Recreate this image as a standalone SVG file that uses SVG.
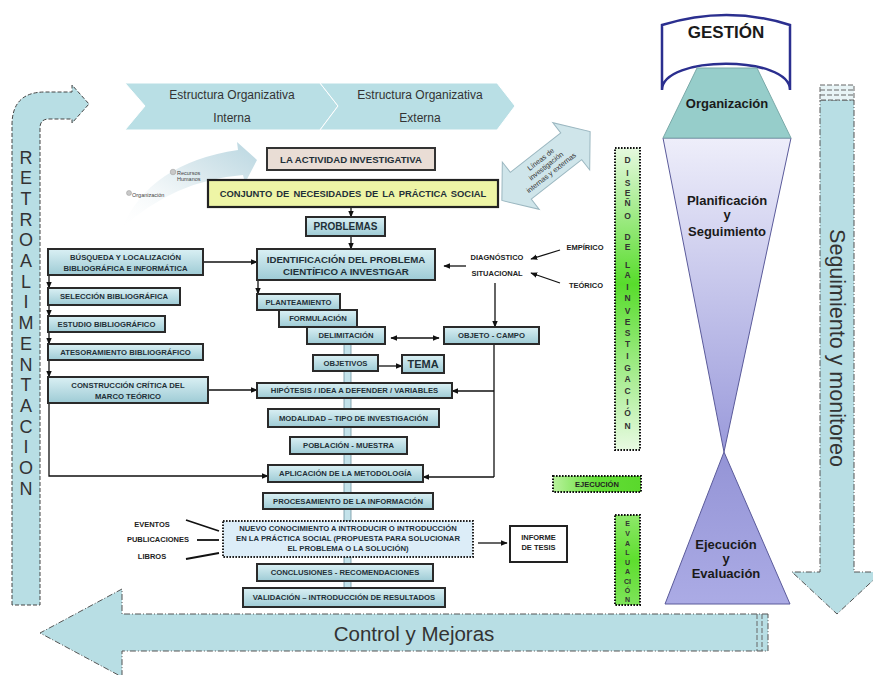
<svg xmlns="http://www.w3.org/2000/svg" width="873" height="675" viewBox="0 0 873 675">
<defs>
<linearGradient id="ng" x1="0" y1="0" x2="0" y2="1"><stop offset="0" stop-color="#daf0f4"/><stop offset="1" stop-color="#9ecbd5"/></linearGradient>
<linearGradient id="gv" x1="0" y1="0" x2="0" y2="1"><stop offset="0" stop-color="#e6f9df"/><stop offset="0.45" stop-color="#58dc2c"/><stop offset="1" stop-color="#e8fae2"/></linearGradient>
<linearGradient id="gv2" x1="0" y1="0" x2="0" y2="1"><stop offset="0" stop-color="#8ee86a"/><stop offset="0.5" stop-color="#5ede2e"/><stop offset="1" stop-color="#7ee45a"/></linearGradient>
<linearGradient id="gh" x1="0" y1="0" x2="1" y2="0"><stop offset="0" stop-color="#b8f29c"/><stop offset="0.5" stop-color="#62dd35"/><stop offset="1" stop-color="#5ad82c"/></linearGradient>
<linearGradient id="pu1" x1="0" y1="0" x2="0" y2="1"><stop offset="0" stop-color="#eeeefa"/><stop offset="1" stop-color="#9a9adb"/></linearGradient>
<linearGradient id="pu2" x1="0" y1="0" x2="0" y2="1"><stop offset="0" stop-color="#9494d6"/><stop offset="1" stop-color="#ababe5"/></linearGradient>
<linearGradient id="cv" x1="0" y1="1" x2="1" y2="0"><stop offset="0" stop-color="#ffffff" stop-opacity="0.1"/><stop offset="0.6" stop-color="#dbe9ee"/><stop offset="1" stop-color="#bad7e1"/></linearGradient>
<marker id="ah" viewBox="0 0 10 10" refX="9" refY="5" markerWidth="7" markerHeight="7" markerUnits="userSpaceOnUse" orient="auto-start-reverse"><path d="M0,1 L10,5 L0,9 z" fill="#111"/></marker>
<style>
.f{font-family:"Liberation Sans",Arial,sans-serif}
.nb{fill:url(#ng);stroke:#2a2a2a;stroke-width:2}
.nt{font-family:"Liberation Sans",Arial,sans-serif;font-weight:bold;font-size:7.7px;fill:#1f3038;text-anchor:middle}
.c{fill:none;stroke:#111;stroke-width:1.3}
.ca{marker-end:url(#ah)}
.hb{fill:#c3e2ea;stroke:#6f93a0;stroke-width:0.8}
.gb{stroke:#111;stroke-width:2;stroke-dasharray:1.6 1.4}
.gl{font-family:"Liberation Sans",Arial,sans-serif;font-weight:bold;font-size:8.5px;fill:#333;text-anchor:middle}
.lb{fill:#b8dee4;stroke:#444;stroke-width:1;stroke-dasharray:4 2}
.dd{fill:#b8dee4;stroke:#555;stroke-width:1;stroke-dasharray:6 2 1 2}
.big{font-family:"Liberation Sans",Arial,sans-serif;fill:#333}
.hg{font-family:"Liberation Sans",Arial,sans-serif;font-weight:bold;font-size:13px;fill:#1a1a1a;text-anchor:middle}
.sm{font-family:"Liberation Sans",Arial,sans-serif;font-weight:bold;font-size:7.5px;fill:#222;text-anchor:middle}
</style>
</defs>
<rect width="873" height="675" fill="#ffffff"/>

<g id="retroalimentacion">
<path class="lb" d="M12,605 L12,125 Q12,92 45,92 L72,92 L72,85 L89,104 L72,123 L72,119 L49,119 Q40,119 40,128 L40,605 Z"/>
<text class="big" font-size="18" text-anchor="middle">
<tspan x="26" y="163.5">R</tspan><tspan x="26" y="184.2">E</tspan><tspan x="26" y="204.9">T</tspan><tspan x="26" y="225.6">R</tspan><tspan x="26" y="246.3">O</tspan><tspan x="26" y="267">A</tspan><tspan x="26" y="287.7">L</tspan><tspan x="26" y="308.4">I</tspan><tspan x="26" y="329.1">M</tspan><tspan x="26" y="349.8">E</tspan><tspan x="26" y="370.5">N</tspan><tspan x="26" y="391.2">T</tspan><tspan x="26" y="411.9">A</tspan><tspan x="26" y="432.6">C</tspan><tspan x="26" y="453.3">I</tspan><tspan x="26" y="474">O</tspan><tspan x="26" y="494.7">N</tspan>
</text>
</g>

<g id="estructura-interna">
<path d="M125,83 L320,83 L338,106 L320,130 L125,130 L145,106 Z" fill="#b9dfe5" stroke="#ffffff" stroke-width="1"/>
<text class="big" font-size="12" text-anchor="middle"><tspan x="232" y="99">Estructura Organizativa</tspan><tspan x="232" y="122">Interna</tspan></text>
</g>
<g id="estructura-externa">
<path d="M320,83 L497,83 L515,106 L497,130 L320,130 L338,106 Z" fill="#b9dfe5" stroke="#ffffff" stroke-width="1"/>
<text class="big" font-size="12" text-anchor="middle"><tspan x="420" y="99">Estructura Organizativa</tspan><tspan x="420" y="122">Externa</tspan></text>
</g>

<g id="organizacion-rrhh">
<path d="M122,228 Q150,163 238,150 L237,142 L257,160 L245,183 L243,175 Q175,180 122,228 Z" fill="url(#cv)"/>
<circle cx="129" cy="193" r="2.5" fill="#c8c8c8" stroke="#999" stroke-width="0.5"/>
<circle cx="173" cy="172" r="2.8" fill="#c8c8c8" stroke="#999" stroke-width="0.5"/>
<text class="f" font-size="5.5" fill="#444"><tspan x="132" y="197">Organización</tspan><tspan x="177" y="175">Recursos</tspan><tspan x="177" y="181">Humanos</tspan></text>
</g>

<g id="lineas-investigacion" transform="translate(546,166) rotate(-38)">
<path d="M-56,0 L-32,-30 L-32,-17 L32,-17 L32,-30 L56,0 L32,30 L32,17 L-32,17 L-32,30 Z" fill="#cfe5ea" stroke="#9bb7c0" stroke-width="1"/>
<text class="f" font-size="7.2" fill="#333" text-anchor="middle"><tspan x="0" y="-6">Líneas de</tspan><tspan x="0" y="2.5">investigación</tspan><tspan x="0" y="11">internas y externas</tspan></text>
</g>

<g id="connectors">
<line class="c ca" x1="351" y1="207" x2="351" y2="217"/>
<line class="c ca" x1="351" y1="236" x2="351" y2="249"/>
<line class="c ca" x1="203" y1="262" x2="257" y2="262"/>
<line class="c ca" x1="258" y1="280" x2="258" y2="294"/>
<line class="c ca" x1="208" y1="390" x2="257" y2="390"/>
<line class="c ca" x1="49" y1="275" x2="49" y2="288"/>
<line class="c ca" x1="49" y1="305" x2="49" y2="316"/>
<line class="c ca" x1="49" y1="332" x2="49" y2="344"/>
<line class="c ca" x1="49" y1="360" x2="49" y2="377"/>
<polyline class="c ca" points="49,403 49,476 268,476"/>
<line class="c ca" x1="466" y1="266" x2="444" y2="266"/>
<line class="c ca" x1="495" y1="283" x2="495" y2="327"/>
<line class="c ca" x1="560" y1="250" x2="531" y2="259"/>
<line class="c ca" x1="560" y1="283" x2="531" y2="273"/>
<line class="c ca" x1="391" y1="338" x2="439" y2="338" marker-start="url(#ah)"/>
<line class="c ca" x1="378" y1="366" x2="402" y2="366"/>
<polyline class="c" points="494,344 494,477"/>
<line class="c ca" x1="494" y1="391" x2="452" y2="391"/>
<line class="c ca" x1="494" y1="477" x2="423" y2="477"/>
<line class="c ca" x1="478" y1="543" x2="507" y2="543" stroke-width="2"/>
<line x1="186" y1="520" x2="219" y2="531" stroke="#111" stroke-width="1.8"/>
<line x1="197" y1="540" x2="219" y2="540" stroke="#111" stroke-width="1.8"/>
<line x1="186" y1="559" x2="219" y2="553" stroke="#111" stroke-width="1.8"/>
<rect class="hb" x="344" y="344" width="7" height="11"/>
<rect class="hb" x="344" y="371" width="7" height="12"/>
<rect class="hb" x="344" y="398" width="7" height="11"/>
<rect class="hb" x="344" y="427" width="7" height="10"/>
<rect class="hb" x="344" y="454" width="7" height="11"/>
<rect class="hb" x="344" y="482" width="7" height="11"/>
<rect class="hb" x="344" y="509" width="7" height="12"/>
<rect class="hb" x="344" y="557" width="7" height="7"/>
<rect class="hb" x="344" y="581" width="7" height="7"/>
</g>

<g id="actividad">
<rect x="267" y="148" width="168" height="22" fill="#e9ddd5" stroke="#333" stroke-width="2"/>
<text class="nt" style="font-size:9.6px" x="351" y="162.5">LA ACTIVIDAD INVESTIGATIVA</text>
</g>
<g id="conjunto">
<rect x="208" y="180" width="290" height="27" fill="#eef5a6" stroke="#222" stroke-width="2.2"/>
<text class="nt" style="font-size:9.4px;word-spacing:1.5px" x="353" y="197">CONJUNTO DE NECESIDADES DE LA PRÁCTICA SOCIAL</text>
</g>
<g id="problemas">
<rect class="nb" x="306" y="217" width="79" height="19"/>
<text class="nt" style="font-size:10px" x="345.5" y="230">PROBLEMAS</text>
</g>
<g id="identificacion">
<rect class="nb" x="257" y="249" width="178" height="31"/>
<text class="nt" style="font-size:9.7px"><tspan x="346" y="262.5">IDENTIFICACIÓN DEL PROBLEMA</tspan><tspan x="346" y="275">CIENTÍFICO A INVESTIGAR</tspan></text>
</g>
<g id="busqueda">
<rect class="nb" x="48" y="249" width="155" height="26"/>
<text class="nt"><tspan x="125.5" y="260">BÚSQUEDA Y LOCALIZACIÓN</tspan><tspan x="125.5" y="270.5">BIBLIOGRÁFICA E INFORMÁTICA</tspan></text>
</g>
<g id="seleccion">
<rect class="nb" x="48" y="288" width="132" height="17"/>
<text class="nt" x="114" y="299.3">SELECCIÓN BIBLIOGRÁFICA</text>
</g>
<g id="estudio">
<rect class="nb" x="48" y="316" width="117" height="16"/>
<text class="nt" x="106.5" y="326.8">ESTUDIO BIBLIOGRÁFICO</text>
</g>
<g id="atesoramiento">
<rect class="nb" x="48" y="344" width="155" height="16"/>
<text class="nt" x="125.5" y="354.8">ATESORAMIENTO BIBLIOGRÁFICO</text>
</g>
<g id="construccion">
<rect class="nb" x="48" y="377" width="160" height="26"/>
<text class="nt"><tspan x="128" y="388">CONSTRUCCIÓN CRÍTICA DEL</tspan><tspan x="128" y="398.5">MARCO TEÓRICO</tspan></text>
</g>
<g id="planteamiento">
<rect class="nb" x="257" y="294" width="83" height="16"/>
<text class="nt" x="298.5" y="304.8">PLANTEAMIENTO</text>
</g>
<g id="formulacion">
<rect class="nb" x="279" y="310" width="78" height="17"/>
<text class="nt" x="318" y="321.3">FORMULACIÓN</text>
</g>
<g id="delimitacion">
<rect class="nb" x="307" y="327" width="78" height="17"/>
<text class="nt" x="346" y="338.3">DELIMITACIÓN</text>
</g>
<g id="objeto-campo">
<rect class="nb" x="444" y="327" width="95" height="17"/>
<text class="nt" x="491.5" y="338.3">OBJETO - CAMPO</text>
</g>
<g id="diagnostico">
<text class="sm"><tspan x="497" y="260">DIAGNÓSTICO</tspan><tspan x="497" y="276">SITUACIONAL</tspan></text>
</g>
<g id="empirico"><text class="sm" x="585" y="250">EMPÍRICO</text></g>
<g id="teorico"><text class="sm" x="586" y="288">TEÓRICO</text></g>
<g id="objetivos">
<rect class="nb" x="313" y="355" width="65" height="16"/>
<text class="nt" x="345.5" y="365.8">OBJETIVOS</text>
</g>
<g id="tema">
<rect class="nb" x="402" y="355" width="42" height="18"/>
<text class="nt" style="font-size:11px" x="423" y="368">TEMA</text>
</g>
<g id="hipotesis">
<rect class="nb" x="257" y="383" width="195" height="15"/>
<text class="nt" x="354.5" y="393.3">HIPÓTESIS / IDEA A DEFENDER / VARIABLES</text>
</g>
<g id="modalidad">
<rect class="nb" x="268" y="409" width="171" height="18"/>
<text class="nt" x="353.5" y="420.8">MODALIDAD – TIPO DE INVESTIGACIÓN</text>
</g>
<g id="poblacion">
<rect class="nb" x="290" y="437" width="117" height="17"/>
<text class="nt" x="348.5" y="448.3">POBLACIÓN - MUESTRA</text>
</g>
<g id="aplicacion">
<rect class="nb" x="268" y="465" width="155" height="17"/>
<text class="nt" x="345.5" y="476.3">APLICACIÓN DE LA METODOLOGÍA</text>
</g>
<g id="procesamiento">
<rect class="nb" x="263" y="493" width="170" height="16"/>
<text class="nt" x="348" y="503.8">PROCESAMIENTO DE LA INFORMACIÓN</text>
</g>
<g id="nuevo">
<rect x="223" y="521" width="250" height="36" fill="#dcedf8" stroke="#222" stroke-width="2" stroke-dasharray="1.6 1.4"/>
<text class="nt"><tspan x="348" y="531">NUEVO CONOCIMIENTO A INTRODUCIR O INTRODUCCIÓN</tspan><tspan x="348" y="541">EN LA PRÁCTICA SOCIAL (PROPUESTA PARA SOLUCIONAR</tspan><tspan x="348" y="551">EL PROBLEMA O LA SOLUCIÓN)</tspan></text>
</g>
<g id="eventos"><text class="sm" x="152" y="527">EVENTOS</text></g>
<g id="publicaciones"><text class="sm" x="158" y="542">PUBLICACIONES</text></g>
<g id="libros"><text class="sm" x="152" y="559">LIBROS</text></g>
<g id="informe">
<rect x="510" y="526" width="57" height="36" fill="#ffffff" stroke="#222" stroke-width="2"/>
<text class="sm"><tspan x="538.5" y="540">INFORME</tspan><tspan x="538.5" y="550">DE TESIS</tspan></text>
</g>
<g id="conclusiones">
<rect class="nb" x="257" y="564" width="176" height="17"/>
<text class="nt" x="345" y="575.3">CONCLUSIONES - RECOMENDACIONES</text>
</g>
<g id="validacion">
<rect class="nb" x="243" y="588" width="202" height="19"/>
<text class="nt" x="344" y="600.3">VALIDACIÓN – INTRODUCCIÓN DE RESULTADOS</text>
</g>

<g id="diseno">
<rect class="gb" x="615" y="148" width="25" height="302" fill="url(#gv)"/>
<text class="gl"><tspan x="627.5" y="163">D</tspan><tspan x="627.5" y="176">I</tspan><tspan x="627.5" y="186">S</tspan><tspan x="627.5" y="196">E</tspan><tspan x="627.5" y="206">Ñ</tspan><tspan x="627.5" y="219">O</tspan><tspan x="627.5" y="240">D</tspan><tspan x="627.5" y="250">E</tspan><tspan x="627.5" y="268">L</tspan><tspan x="627.5" y="278">A</tspan><tspan x="627.5" y="290">I</tspan><tspan x="627.5" y="301">N</tspan><tspan x="627.5" y="314">V</tspan><tspan x="627.5" y="325">E</tspan><tspan x="627.5" y="336">S</tspan><tspan x="627.5" y="347">T</tspan><tspan x="627.5" y="359">I</tspan><tspan x="627.5" y="371">G</tspan><tspan x="627.5" y="382">A</tspan><tspan x="627.5" y="394">C</tspan><tspan x="627.5" y="405">I</tspan><tspan x="627.5" y="416">Ó</tspan><tspan x="627.5" y="429">N</tspan></text>
</g>
<g id="ejecucion">
<rect class="gb" x="553" y="476" width="88" height="16" fill="url(#gh)"/>
<text class="sm" x="597" y="487">EJECUCIÓN</text>
</g>
<g id="evaluacion">
<rect class="gb" x="615" y="515" width="25" height="90" fill="url(#gv2)"/>
<text class="gl" style="font-size:7px"><tspan x="627.5" y="526">E</tspan><tspan x="627.5" y="536">V</tspan><tspan x="627.5" y="545.5">A</tspan><tspan x="627.5" y="555">L</tspan><tspan x="627.5" y="564.5">U</tspan><tspan x="627.5" y="574">A</tspan><tspan x="627.5" y="583.5">CI</tspan><tspan x="627.5" y="593">Ó</tspan><tspan x="627.5" y="602">N</tspan></text>
</g>

<g id="gestion">
<path d="M662,25 Q727,5 790,25 L790,90 C790,55 662,55 662,90 Z" fill="#ffffff" stroke="#2b2f8f" stroke-width="2.5"/>
<text class="hg" style="font-size:17px" x="726" y="38">GESTIÓN</text>
</g>
<g id="planificacion">
<path d="M663,138 L791,138 L724,452 Z" fill="url(#pu1)" stroke="#5a5a9a" stroke-width="1"/>
<text class="hg"><tspan x="727" y="204.5">Planificación</tspan><tspan x="727" y="219">y</tspan><tspan x="727" y="235.5">Seguimiento</tspan></text>
</g>
<g id="ejecucion-evaluacion">
<path d="M724,452 L790,604 L665,604 Z" fill="url(#pu2)" stroke="#5a5a9a" stroke-width="1"/>
<text class="hg"><tspan x="726" y="549">Ejecución</tspan><tspan x="726" y="563">y</tspan><tspan x="726" y="578">Evaluación</tspan></text>
</g>
<g id="organizacion">
<path d="M697,68 L757,68 L791,138 L663,138 Z" fill="#96cdca" stroke="#7aa9a8" stroke-width="1"/>
<text class="hg" x="727" y="107.5">Organización</text>
</g>

<g id="seguimiento-monitoreo">
<path class="dd" d="M820,100 L854,100 L854,572 L882,572 L837,614 L792,572 L820,572 Z"/>
<rect x="820" y="85" width="34" height="15" fill="#e8f4f6" stroke="#666" stroke-width="1" stroke-dasharray="5 2"/>
<line x1="820" y1="90" x2="854" y2="90" stroke="#666" stroke-dasharray="5 2"/>
<line x1="820" y1="95" x2="854" y2="95" stroke="#666" stroke-dasharray="5 2"/>
<text class="big" font-size="21.5" text-anchor="middle" transform="translate(830,348) rotate(90)">Seguimiento y monitoreo</text>
</g>

<g id="control-mejoras">
<path class="dd" d="M768,614 L122,614 L122,589 L40,633 L122,677 L122,651 L768,651 Z"/>
<line x1="757" y1="614" x2="757" y2="651" stroke="#666" stroke-dasharray="5 2"/>
<line x1="762" y1="614" x2="762" y2="651" stroke="#666" stroke-dasharray="5 2"/>
<text class="big" font-size="20.5" text-anchor="middle" x="414" y="641">Control y Mejoras</text>
</g>
</svg>
